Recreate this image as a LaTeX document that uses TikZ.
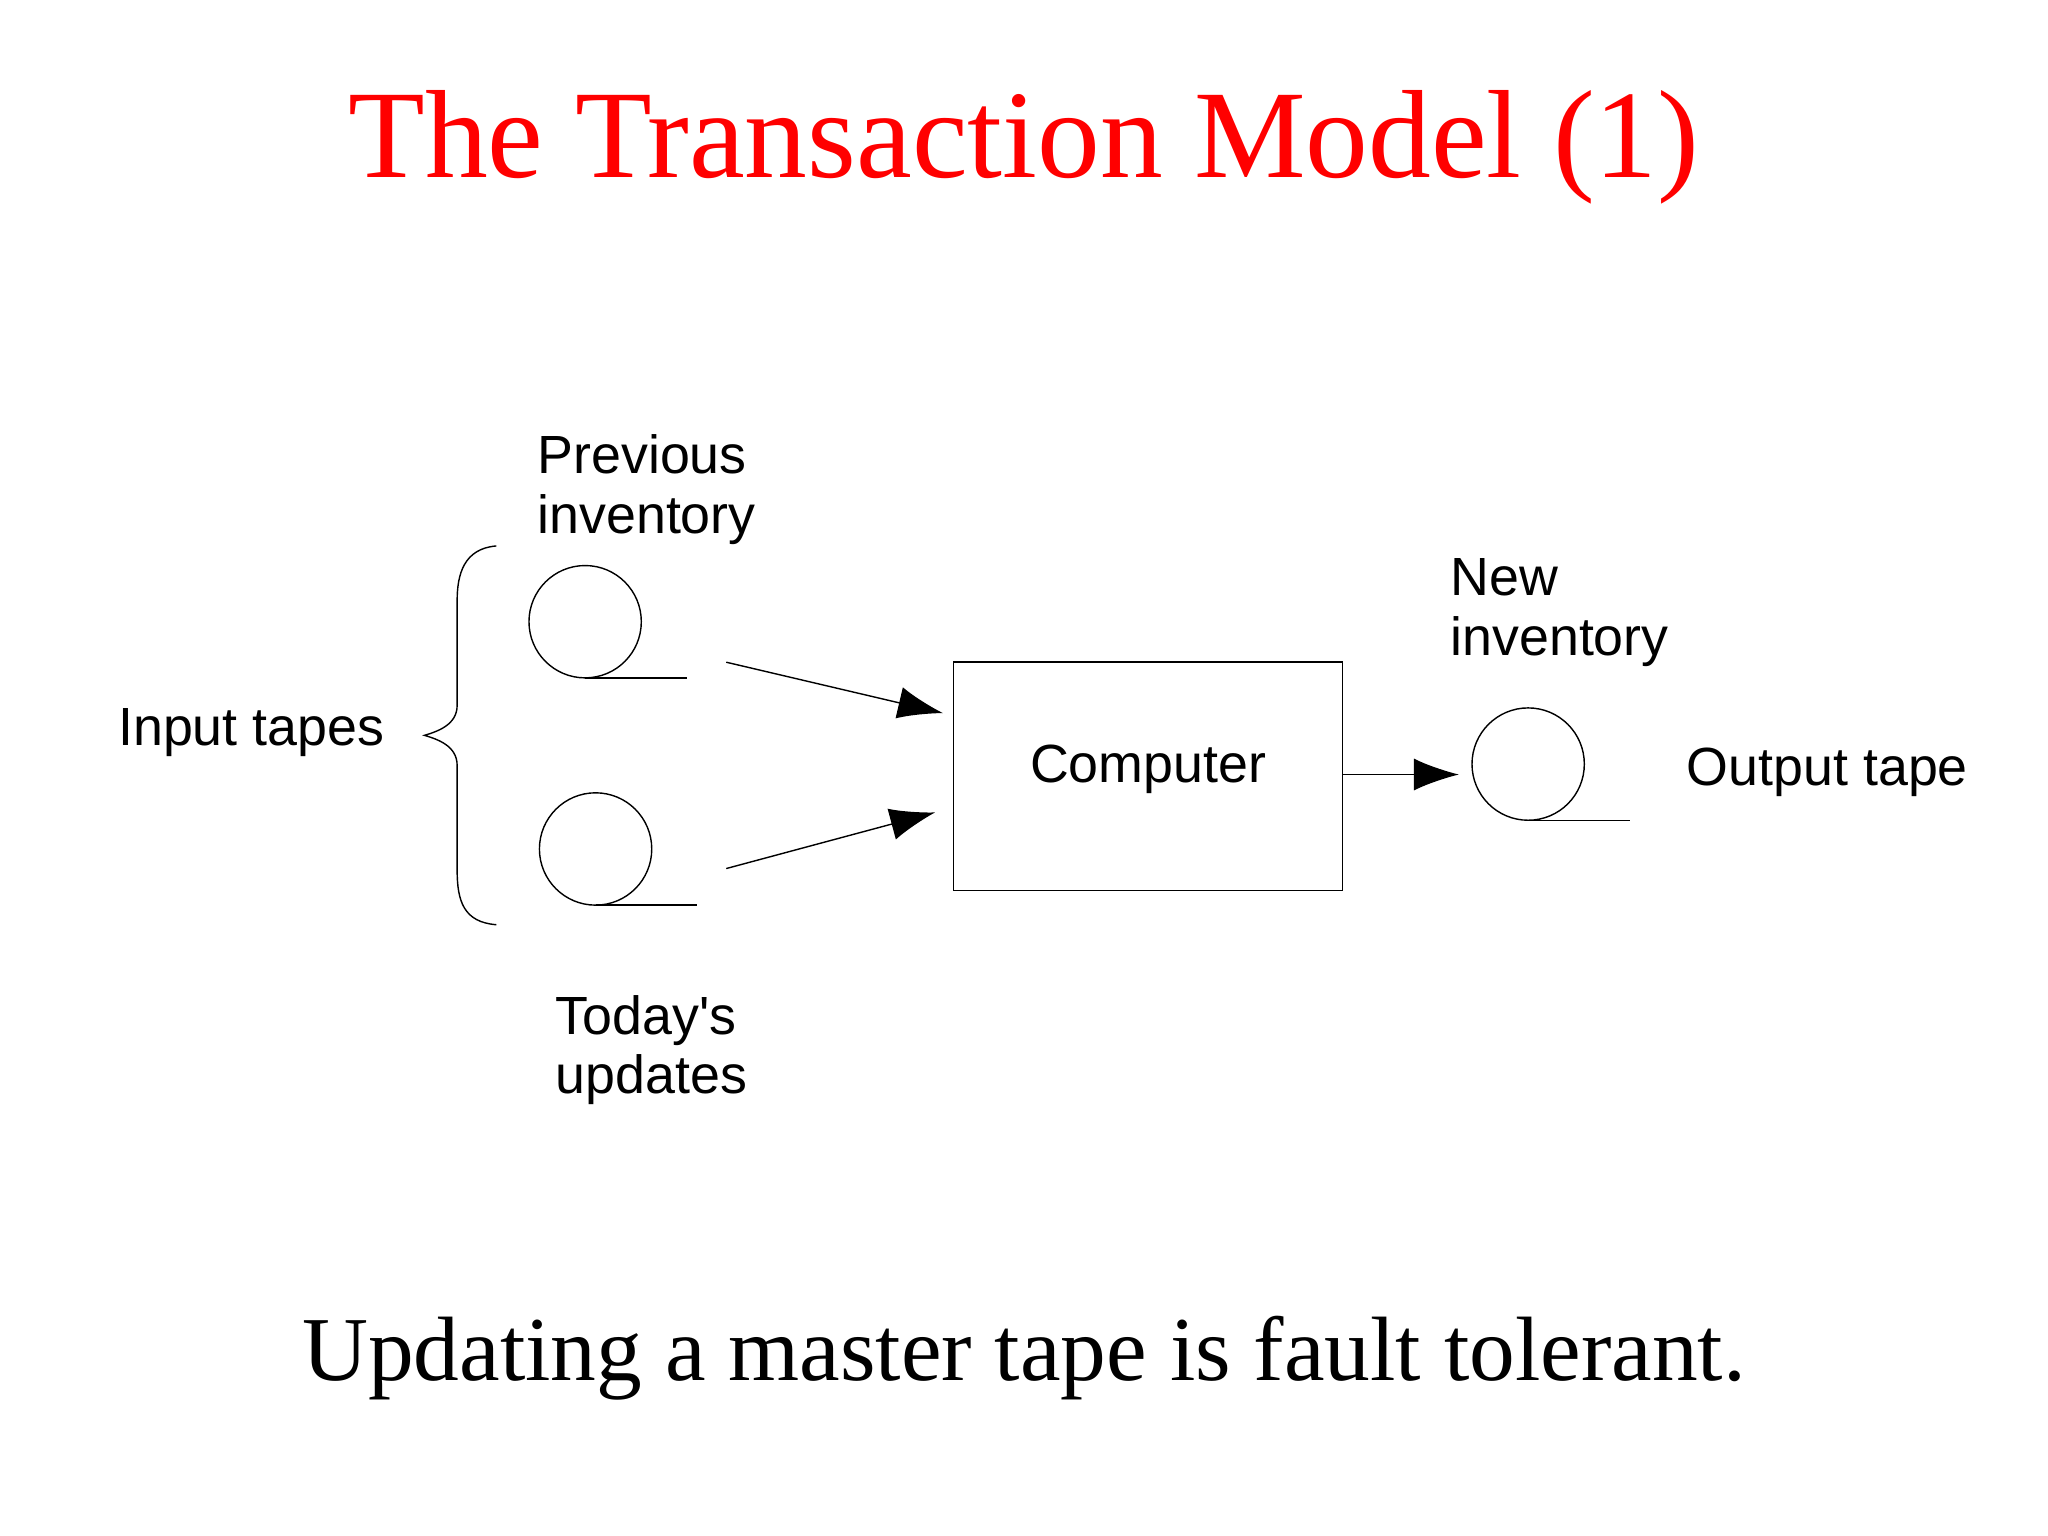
\documentclass[tikz,border=0pt]{standalone}
\usepackage{fontspec}
\setmainfont{Liberation Serif}
\newfontfamily\lsans{Liberation Sans}
\usetikzlibrary{arrows.meta}
\begin{document}
\begin{tikzpicture}[x=0.013061cm,y=-0.013061cm,
  lab/.style={font=\lsans\fontsize{15.3}{17}\selectfont,align=left,inner sep=0pt},
  arr/.style={-{Latex[length=0.45cm,width=0.32cm]},thin}]
\useasboundingbox (0,0) rectangle (1568,1176);
\node[text=red,font=\fontsize{35.7}{40}\selectfont] (title) at (784,113) {The Transaction Model (1)};
\node[font=\fontsize{26}{30}\selectfont] (foot) at (784,1040) {Updating a master tape is fault tolerant.};
% tapes
\draw[thin] (448,476) circle (43);
\draw[thin] (448,519) -- (526,519);
\draw[thin] (456,650) circle (43);
\draw[thin] (456,693) -- (534,693);
\draw[thin] (1170,585) circle (43);
\draw[thin] (1170,628) -- (1248,628);
\coordinate (t1) at (556,507);
\coordinate (t2) at (556,665);
\node[draw,thin,minimum width=298*0.013061cm,minimum height=175*0.013061cm,lab] (comp) at (879,594.5) {};
\node[lab] (ctext) at (879,589) {Computer};
\coordinate (o1) at (1117,593);
\draw[arr] (t1) -- (722,546);
\draw[arr] (t2) -- (716,622);
\draw[arr] (comp.east |- o1) -- (o1);
% brace
\draw[thin] (380,418) .. controls (355,420) and (350,440) .. (350,460) -- (350,540)
  .. controls (350,555) and (335,560) .. (325,563)
  .. controls (335,566) and (350,571) .. (350,586) -- (350,666)
  .. controls (350,690) and (355,706) .. (380,708);
\node[lab,anchor=west] (prev) at (411,375) {Previous\\inventory};
\node[lab,anchor=west] (tod) at (425,804) {Today's\\updates};
\node[lab,anchor=west] (new) at (1110,469) {New\\inventory};
\node[lab,anchor=west] (in) at (90,561) {Input tapes};
\node[lab,anchor=west] (out) at (1291,591) {Output tape};
\end{tikzpicture}
\end{document}
